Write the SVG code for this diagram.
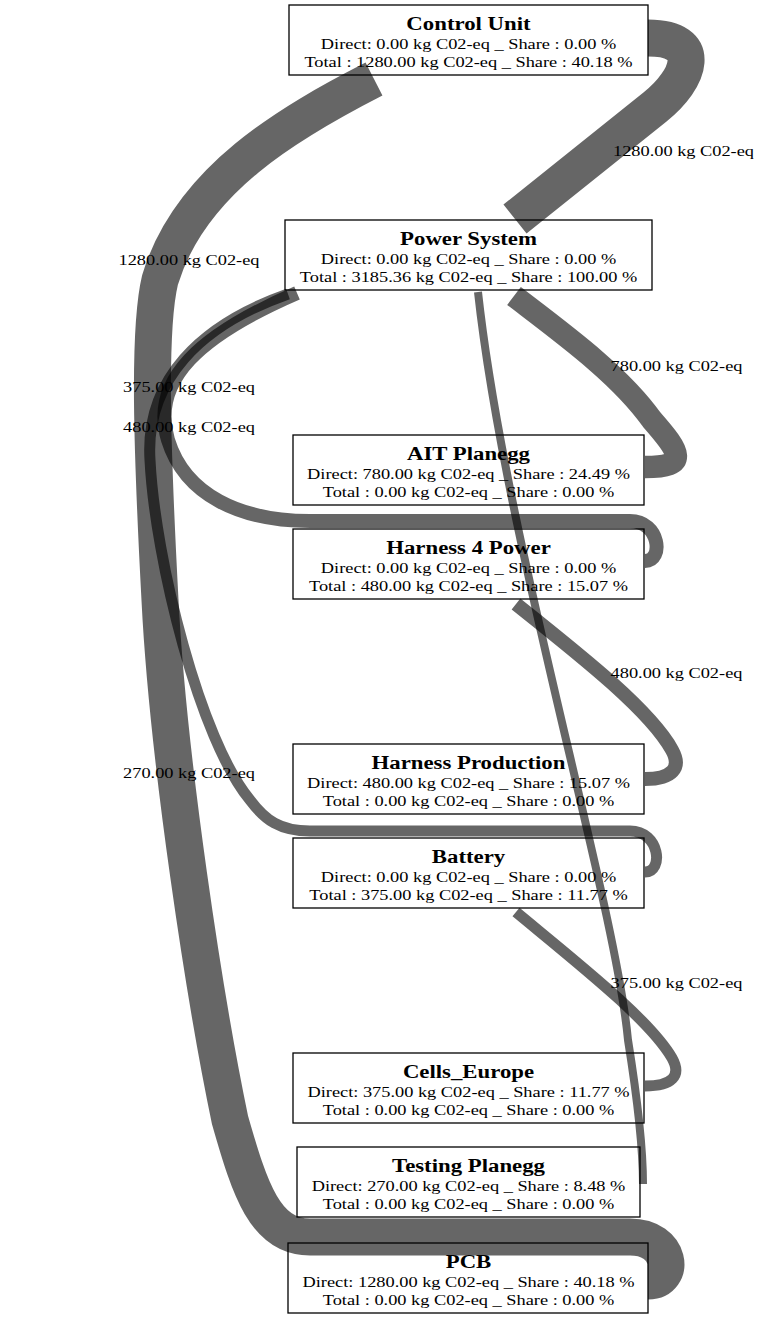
<svg xmlns="http://www.w3.org/2000/svg" width="760" height="1319" viewBox="0 0 760 1319">
<style>
.box{fill:#fff;stroke:#000;stroke-width:1.3}
.t{font-family:"Liberation Serif","Times New Roman",serif;font-weight:bold;font-size:19px;text-anchor:middle;fill:#000}
.l{font-family:"Liberation Serif","Times New Roman",serif;font-size:15.3px;text-anchor:middle;fill:#000}
.e{fill:none;stroke:#000;stroke-opacity:0.6;stroke-linecap:butt}
</style>
<rect width="760" height="1319" fill="#fff"/>
<g id="node-control-unit">
<rect class="box" x="289" y="5" width="359" height="70"/>
<text class="t" transform="translate(468.5,30) scale(1.2,1)">Control Unit</text>
<text class="l" transform="translate(468.5,49) scale(1.2,1)">Direct: 0.00 kg C02-eq _ Share : 0.00 %</text>
<text class="l" transform="translate(468.5,67) scale(1.2,1)">Total : 1280.00 kg C02-eq _ Share : 40.18 %</text>
</g>
<g id="node-power-system">
<rect class="box" x="285" y="220" width="367" height="70"/>
<text class="t" transform="translate(468.5,245) scale(1.2,1)">Power System</text>
<text class="l" transform="translate(468.5,264) scale(1.2,1)">Direct: 0.00 kg C02-eq _ Share : 0.00 %</text>
<text class="l" transform="translate(468.5,282) scale(1.2,1)">Total : 3185.36 kg C02-eq _ Share : 100.00 %</text>
</g>
<g id="node-ait-planegg">
<rect class="box" x="293" y="435" width="351" height="70"/>
<text class="t" transform="translate(468.5,460) scale(1.2,1)">AIT Planegg</text>
<text class="l" transform="translate(468.5,479) scale(1.2,1)">Direct: 780.00 kg C02-eq _ Share : 24.49 %</text>
<text class="l" transform="translate(468.5,497) scale(1.2,1)">Total : 0.00 kg C02-eq _ Share : 0.00 %</text>
</g>
<g id="node-harness-4-power">
<rect class="box" x="293" y="529" width="351" height="70"/>
<text class="t" transform="translate(468.5,554) scale(1.2,1)">Harness 4 Power</text>
<text class="l" transform="translate(468.5,573) scale(1.2,1)">Direct: 0.00 kg C02-eq _ Share : 0.00 %</text>
<text class="l" transform="translate(468.5,591) scale(1.2,1)">Total : 480.00 kg C02-eq _ Share : 15.07 %</text>
</g>
<g id="node-harness-production">
<rect class="box" x="293" y="744" width="351" height="70"/>
<text class="t" transform="translate(468.5,769) scale(1.2,1)">Harness Production</text>
<text class="l" transform="translate(468.5,788) scale(1.2,1)">Direct: 480.00 kg C02-eq _ Share : 15.07 %</text>
<text class="l" transform="translate(468.5,806) scale(1.2,1)">Total : 0.00 kg C02-eq _ Share : 0.00 %</text>
</g>
<g id="node-battery">
<rect class="box" x="293" y="838" width="351" height="70"/>
<text class="t" transform="translate(468.5,863) scale(1.2,1)">Battery</text>
<text class="l" transform="translate(468.5,882) scale(1.2,1)">Direct: 0.00 kg C02-eq _ Share : 0.00 %</text>
<text class="l" transform="translate(468.5,900) scale(1.2,1)">Total : 375.00 kg C02-eq _ Share : 11.77 %</text>
</g>
<g id="node-cells-europe">
<rect class="box" x="293" y="1053" width="351" height="70"/>
<text class="t" transform="translate(468.5,1078) scale(1.2,1)">Cells_Europe</text>
<text class="l" transform="translate(468.5,1097) scale(1.2,1)">Direct: 375.00 kg C02-eq _ Share : 11.77 %</text>
<text class="l" transform="translate(468.5,1115) scale(1.2,1)">Total : 0.00 kg C02-eq _ Share : 0.00 %</text>
</g>
<g id="node-testing-planegg">
<rect class="box" x="297" y="1147" width="343" height="70"/>
<text class="t" transform="translate(468.5,1172) scale(1.2,1)">Testing Planegg</text>
<text class="l" transform="translate(468.5,1191) scale(1.2,1)">Direct: 270.00 kg C02-eq _ Share : 8.48 %</text>
<text class="l" transform="translate(468.5,1209) scale(1.2,1)">Total : 0.00 kg C02-eq _ Share : 0.00 %</text>
</g>
<g id="node-pcb">
<rect class="box" x="288" y="1243" width="360" height="70"/>
<text class="t" transform="translate(468.5,1268) scale(1.2,1)">PCB</text>
<text class="l" transform="translate(468.5,1287) scale(1.2,1)">Direct: 1280.00 kg C02-eq _ Share : 40.18 %</text>
<text class="l" transform="translate(468.5,1305) scale(1.2,1)">Total : 0.00 kg C02-eq _ Share : 0.00 %</text>
</g>
<g id="connectors">
<path class="e" stroke-width="37" d="M515,219 L655,107 C690,79 705,38 648,38"/>
<path class="e" stroke-width="37" d="M374,79 C290,122 190,180 160,280 C148,330 152,450 160,600 C168,760 205,1000 230,1120 C250,1190 265,1237 310,1237 L630,1237 C672,1237 676,1281 648,1281"/>
<path class="e" stroke-width="22.5" d="M514,296 C565,335 620,375 652,420 C680,452 690,467 645,467"/>
<path class="e" stroke-width="14" d="M297,293 C200,335 150,380 168,440 C185,495 240,521 310,521 L630,521 C660,521 664,561 645,561"/>
<path class="e" stroke-width="11" d="M288,294 C200,325 145,380 150,460 C155,560 200,740 250,800 C265,820 280,831 310,831 L630,831 C660,831 664,872 645,872"/>
<path class="e" stroke-width="8" d="M478,292 C505,540 615,900 628,1040 C636,1090 643,1140 643,1184"/>
<path class="e" stroke-width="14" d="M516,604 C580,655 650,710 672,750 C682,768 672,779 645,779"/>
<path class="e" stroke-width="11" d="M516,912 C580,965 650,1020 672,1058 C682,1076 672,1086 645,1086"/>
<text class="l" transform="translate(683.5,156) scale(1.2,1)">1280.00 kg C02-eq</text>
<text class="l" transform="translate(189,265) scale(1.2,1)">1280.00 kg C02-eq</text>
<text class="l" transform="translate(676.5,371) scale(1.2,1)">780.00 kg C02-eq</text>
<text class="l" transform="translate(189,392) scale(1.2,1)">375.00 kg C02-eq</text>
<text class="l" transform="translate(189,432) scale(1.2,1)">480.00 kg C02-eq</text>
<text class="l" transform="translate(676.5,678) scale(1.2,1)">480.00 kg C02-eq</text>
<text class="l" transform="translate(189,778) scale(1.2,1)">270.00 kg C02-eq</text>
<text class="l" transform="translate(676.5,988) scale(1.2,1)">375.00 kg C02-eq</text>
</g>
</svg>
